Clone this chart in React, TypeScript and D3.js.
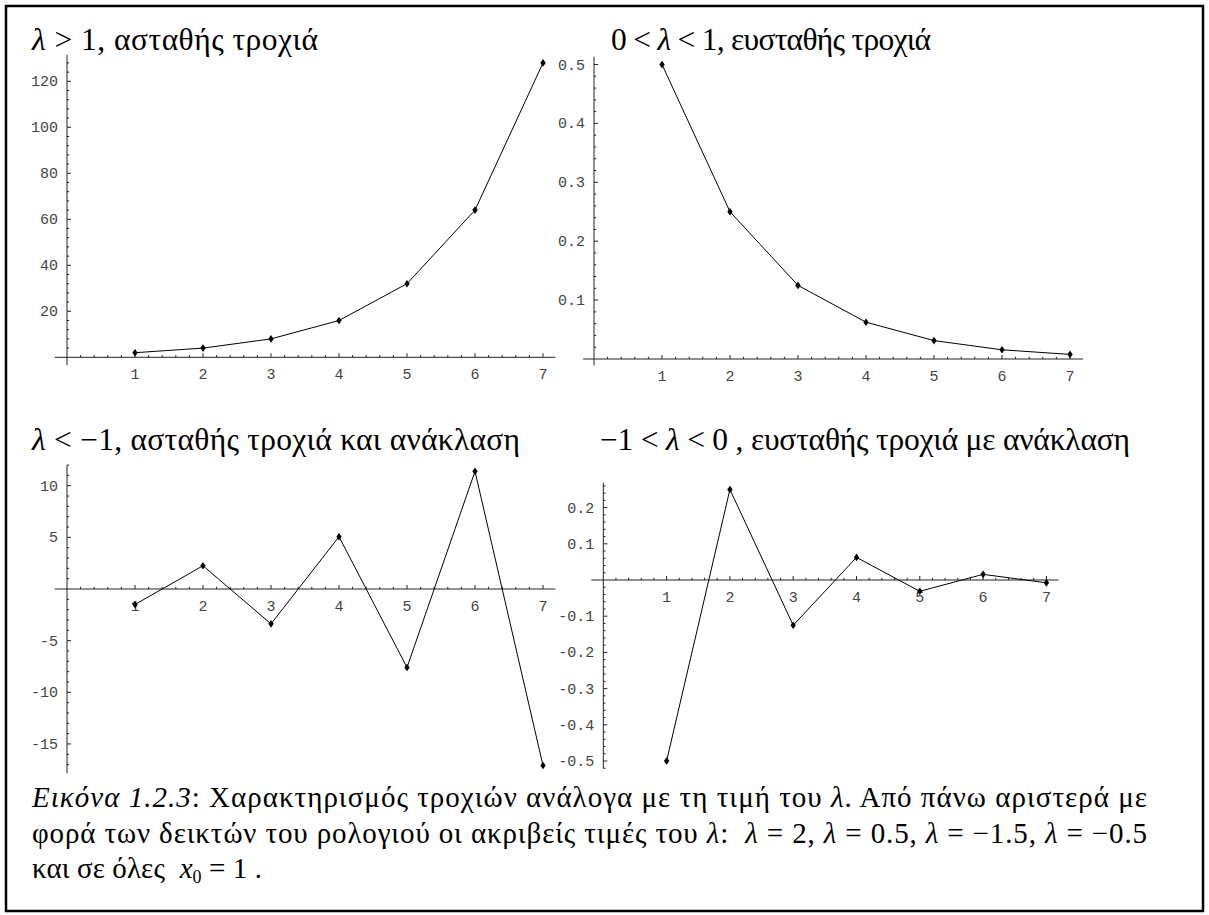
import React from "react";
import * as d3 from "d3";

// Iterates x_n = λ^n · x0 (x0 = 1) for n = 1..7
const steps = [1, 2, 3, 4, 5, 6, 7];
const growthValues = [2, 4, 8, 16, 32, 64, 128]; // λ = 2
const decayValues = [0.5, 0.25, 0.125, 0.0625, 0.03125, 0.015625, 0.0078125]; // λ = 0.5
const reflectGrowthValues = [-1.5, 2.25, -3.375, 5.0625, -7.59375, 11.390625, -17.0859375]; // λ = -1.5
const reflectDecayValues = [-0.5, 0.25, -0.125, 0.0625, -0.03125, 0.015625, -0.0078125]; // λ = -0.5

// Tick values and their labels
const xTickValues = [1, 2, 3, 4, 5, 6, 7];
const yTicksGrowth = [20, 40, 60, 80, 100, 120];
const yTicksDecay = [0.1, 0.2, 0.3, 0.4, 0.5];
const yTicksReflectGrowth = [-15, -10, -5, 5, 10];
const yTicksReflectDecay = [-0.5, -0.4, -0.3, -0.2, -0.1, 0.1, 0.2];

type Seg = { text: string; italic?: boolean; sub?: boolean };

type Panel = {
  key: string;
  values: number[];
  title: Seg[];
  titleX: number;
  titleY: number;
  titleWidth: number;
  xPx: [number, number]; // pixel of n = 0 and n = 7
  xExtent: [number, number];
  yRef: number; // reference value for vertical scale
  yPx: [number, number]; // pixel of 0 and of yRef
  yExtent: [number, number];
  yTicks: number[];
  yMinorStep: number;
  yFormat: (v: number) => string;
};

const fmtInt = (v: number) => (v < 0 ? "-" : "") + Math.abs(v).toString();
const fmtDec = (v: number) => (v < 0 ? "-" : "") + Math.abs(v).toFixed(1);

const panels: Panel[] = [
  {
    key: "growth",
    values: growthValues,
    title: [{ text: "λ", italic: true }, { text: " > 1, ασταθής τροχιά" }],
    titleX: 32,
    titleY: 50,
    titleWidth: 286,
    xPx: [67, 543],
    xExtent: [-0.18, 7.18],
    yRef: 120,
    yPx: [357.3, 81.3],
    yExtent: [-3.4, 131.5],
    yTicks: yTicksGrowth,
    yMinorStep: 4,
    yFormat: fmtInt,
  },
  {
    key: "decay",
    values: decayValues,
    title: [{ text: "0 < " }, { text: "λ", italic: true }, { text: " < 1, ευσταθής τροχιά" }],
    titleX: 611,
    titleY: 50,
    titleWidth: 320,
    xPx: [594, 1070],
    xExtent: [-0.16, 7.19],
    yRef: 0.5,
    yPx: [359, 64.5],
    yExtent: [-0.011, 0.513],
    yTicks: yTicksDecay,
    yMinorStep: 0.02,
    yFormat: fmtDec,
  },
  {
    key: "reflectGrowth",
    values: reflectGrowthValues,
    title: [{ text: "λ", italic: true }, { text: " < −1, ασταθής τροχιά και ανάκλαση" }],
    titleX: 32,
    titleY: 450,
    titleWidth: 488,
    xPx: [67, 543],
    xExtent: [-0.18, 7.18],
    yRef: 10,
    yPx: [589, 485.7],
    yExtent: [-17.84, 12.0],
    yTicks: yTicksReflectGrowth,
    yMinorStep: 1,
    yFormat: fmtInt,
  },
  {
    key: "reflectDecay",
    values: reflectDecayValues,
    title: [
      { text: "−1 < " },
      { text: "λ", italic: true },
      { text: " < 0 , ευσταθής τροχιά με ανάκλαση" },
    ],
    titleX: 600,
    titleY: 450,
    titleWidth: 530,
    xPx: [603.3, 1046.4],
    xExtent: [-0.19, 7.19],
    yRef: 0.2,
    yPx: [580, 507.6],
    yExtent: [-0.52, 0.269],
    yTicks: yTicksReflectDecay,
    yMinorStep: 0.02,
    yFormat: fmtDec,
  },
];

const captionLines: Seg[][] = [
  [
    { text: "Εικόνα 1.2.3", italic: true },
    { text: ": Χαρακτηρισμός τροχιών ανάλογα με τη τιμή του " },
    { text: "λ", italic: true },
    { text: ". Από πάνω αριστερά με" },
  ],
  [
    { text: "φορά των δεικτών του ρολογιού οι ακριβείς τιμές του " },
    { text: "λ", italic: true },
    { text: ":  " },
    { text: "λ", italic: true },
    { text: " = 2, " },
    { text: "λ", italic: true },
    { text: " = 0.5, " },
    { text: "λ", italic: true },
    { text: " = −1.5, " },
    { text: "λ", italic: true },
    { text: " = −0.5" },
  ],
  [
    { text: "και σε όλες  " },
    { text: "x", italic: true },
    { text: "0", sub: true },
    { text: " = 1 ." },
  ],
];

const SERIF = '"Liberation Serif"';
const MONO = '"Liberation Mono"';

function minorTicks(extent: [number, number], step: number, majorEvery: number): number[] {
  const out: number[] = [];
  const k0 = Math.ceil(extent[0] / step - 1e-9);
  const k1 = Math.floor(extent[1] / step + 1e-9);
  for (let k = k0; k <= k1; k++) {
    if (k % majorEvery !== 0) out.push(k * step);
  }
  return out;
}

function Segs({ segs }: { segs: Seg[] }) {
  return (
    <>
      {segs.map((s, i) => (
        <tspan
          key={i}
          style={s.italic ? { fontStyle: "italic" } : undefined}
          fontSize={s.sub ? "0.62em" : undefined}
          dy={s.sub ? 5 : i > 0 && segs[i - 1].sub ? -5 : undefined}
        >
          {s.text}
        </tspan>
      ))}
    </>
  );
}

function PanelPlot({ p }: { p: Panel }) {
  const x = d3.scaleLinear().domain([0, 7]).range(p.xPx);
  const y = d3.scaleLinear().domain([0, p.yRef]).range(p.yPx);
  const line = d3
    .line<number>()
    .x((_, i) => x(steps[i]))
    .y((d) => y(d));

  const xMinor = minorTicks(p.xExtent, 0.2, 5);
  const majorRatio = Math.round((p.yTicks[1] - p.yTicks[0]) / p.yMinorStep);
  const yMinor = minorTicks(p.yExtent, p.yMinorStep, majorRatio);
  const x0 = x(0);
  const y0 = y(0);
  const axisColor = "#222";
  const tickStyle = { fontFamily: MONO, fontSize: 15 };

  return (
    <g>
      <text
        x={p.titleX}
        y={p.titleY}
        style={{ fontFamily: SERIF, fontSize: 31.5, whiteSpace: "pre" }}
        fill="#000"
        textLength={p.titleWidth}
        lengthAdjust="spacing"
      >
        <Segs segs={p.title} />
      </text>
      {/* axes */}
      <line x1={x(p.xExtent[0])} x2={x(p.xExtent[1])} y1={y0} y2={y0} stroke={axisColor} strokeWidth={1} />
      <line x1={x0} x2={x0} y1={y(p.yExtent[0])} y2={y(p.yExtent[1])} stroke={axisColor} strokeWidth={1} />
      {/* x ticks */}
      {xTickValues.map((v) => (
        <g key={"xt" + v}>
          <line x1={x(v)} x2={x(v)} y1={y0} y2={y0 - 4} stroke={axisColor} strokeWidth={1} />
          <text x={x(v)} y={y0 + 22} textAnchor="middle" style={tickStyle} fill="#444">
            {v}
          </text>
        </g>
      ))}
      {xMinor.map((v, i) => (
        <line key={"xm" + i} x1={x(v)} x2={x(v)} y1={y0} y2={y0 - 2.2} stroke={axisColor} strokeWidth={1} />
      ))}
      {/* y ticks */}
      {p.yTicks.map((v) => (
        <g key={"yt" + v}>
          <line x1={x0} x2={x0 + 4} y1={y(v)} y2={y(v)} stroke={axisColor} strokeWidth={1} />
          <text x={x0 - 9} y={y(v) + 5} textAnchor="end" style={tickStyle} fill="#444">
            {p.yFormat(v)}
          </text>
        </g>
      ))}
      {yMinor.map((v, i) => (
        <line key={"ym" + i} x1={x0} x2={x0 + 2.2} y1={y(v)} y2={y(v)} stroke={axisColor} strokeWidth={1} />
      ))}
      {/* trajectory */}
      <path d={line(p.values) ?? ""} fill="none" stroke="#000" strokeWidth={1} />
      {p.values.map((v, i) => {
        const cx = x(steps[i]);
        const cy = y(v);
        return (
          <path
            key={"pt" + i}
            d={`M${cx},${cy - 3.8}L${cx + 2.7},${cy}L${cx},${cy + 3.8}L${cx - 2.7},${cy}Z`}
            fill="#000"
          />
        );
      })}
    </g>
  );
}

export default function App() {
  const captionY = [807, 843, 878];
  const captionWidths = [1115, 1115, 230];
  return (
    <svg
      width={1209}
      height={915}
      viewBox="0 0 1209 915"
      style={{ position: "absolute", left: 0, top: 0, background: "#fff" }}
    >
      <rect x={0} y={0} width={1209} height={915} fill="#fff" />
      <rect x={6} y={6} width={1197} height={905} fill="none" stroke="#000" strokeWidth={2.5} />
      {panels.map((p) => (
        <PanelPlot key={p.key} p={p} />
      ))}
      {captionLines.map((segs, i) => (
        <text
          key={"cap" + i}
          x={32}
          y={captionY[i]}
          style={{ fontFamily: SERIF, fontSize: 29, whiteSpace: "pre" }}
          fill="#000"
          textLength={captionWidths[i]}
          lengthAdjust="spacing"
        >
          <Segs segs={segs} />
        </text>
      ))}
    </svg>
  );
}
